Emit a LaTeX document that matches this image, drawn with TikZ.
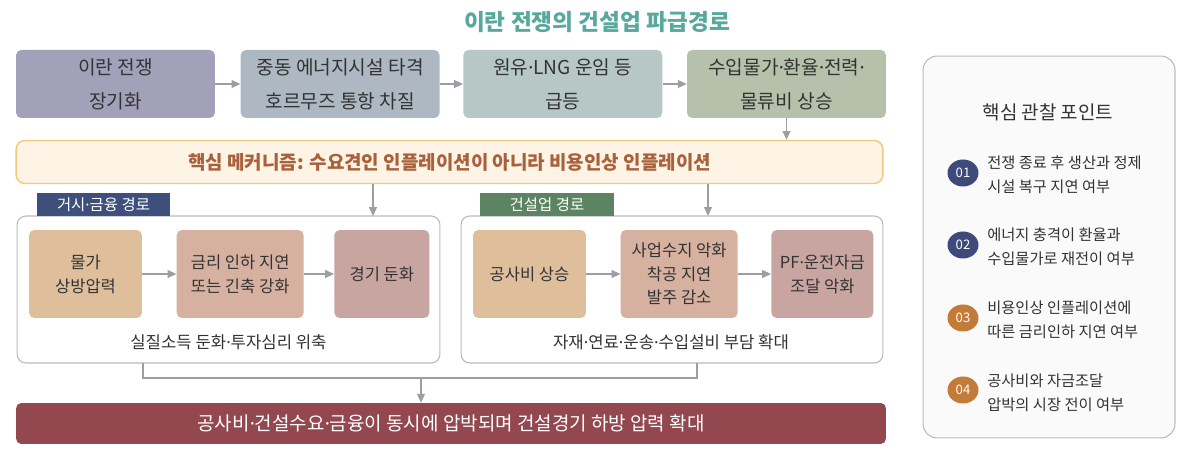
\documentclass[tikz,border=0pt]{standalone}
\usepackage{fontspec}
\setmainfont{Noto Sans CJK KR}
\newfontfamily\latinfont{Noto Sans}
\newcommand{\mdot}{{\latinfont ·}}
\usetikzlibrary{arrows.meta,positioning,shapes.geometric}
\definecolor{titleteal}{RGB}{88,168,158}
\definecolor{textdark}{RGB}{51,51,51}
\definecolor{warcol}{RGB}{163,161,186}
\definecolor{strikecol}{RGB}{173,184,195}
\definecolor{freightcol}{RGB}{182,199,197}
\definecolor{pricecol}{RGB}{182,193,171}
\definecolor{mechfill}{RGB}{253,244,230}
\definecolor{mechline}{RGB}{242,199,126}
\definecolor{mechtext}{RGB}{169,96,59}
\definecolor{navytag}{RGB}{62,79,124}
\definecolor{greentag}{RGB}{92,132,98}
\definecolor{stepone}{RGB}{223,190,156}
\definecolor{steptwo}{RGB}{214,177,160}
\definecolor{stepthree}{RGB}{201,165,161}
\definecolor{resultcol}{RGB}{147,72,80}
\definecolor{badgenavy}{RGB}{62,75,122}
\definecolor{badgeorange}{RGB}{194,123,57}
\definecolor{panelgray}{RGB}{184,187,190}
\definecolor{arrowgray}{RGB}{154,158,165}
\begin{document}
\begin{tikzpicture}[
    x=0.02cm, y=-0.02cm,
    box/.style={rectangle, rounded corners=3pt, align=center, text=textdark, inner sep=0pt},
    topbox/.style={box, minimum width=3.98cm, minimum height=1.36cm, font=\fontsize{10.9}{19.3}\selectfont},
    inbox/.style={box, minimum height=1.76cm, font=\fontsize{9.4}{13.5}\selectfont},
    tag/.style={rectangle, minimum width=2.68cm, minimum height=0.46cm, inner sep=0pt, text=white, font=\fontsize{8.8}{10}\selectfont},
    panel/.style={rectangle, draw=panelgray, line width=0.6pt, rounded corners=5pt, fill=white, minimum height=2.94cm},
    caption/.style={text=textdark, font=\fontsize{9.5}{11}\selectfont},
    flow/.style={draw=arrowgray, line width=0.6pt, -{Triangle[length=5pt, width=4.5pt]}},
    link/.style={draw=arrowgray, line width=0.6pt},
    badge/.style={ellipse, minimum width=0.62cm, minimum height=0.54cm, inner sep=0pt, text=white, font=\fontsize{7.5}{8}\selectfont},
    point/.style={anchor=west, align=left, inner sep=0pt, text=textdark, font=\fontsize{8.7}{13.6}\selectfont}
]
    \useasboundingbox (0,0) rectangle (1200,475);

    % Title
    \node[text=titleteal, font=\fontsize{12.9}{15}\selectfont\bfseries] (title) at (597,22) {이란 전쟁의 건설업 파급경로};

    % Top chain
    \node[topbox, fill=warcol] (war) at (115.5,84) {이란 전쟁\\장기화};
    \node[topbox, fill=strikecol, right=0.5cm of war] (strike) {중동 에너지시설 타격\\호르무즈 통항 차질};
    \node[topbox, fill=freightcol, right=0.46cm of strike] (freight) {원유\mdot LNG 운임 등\\급등};
    \node[topbox, fill=pricecol, right=0.48cm of freight] (prices) {수입물가\mdot 환율\mdot 전력\mdot\\물류비 상승};

    % Mechanism
    \node[box, fill=mechfill, draw=mechline, line width=0.8pt, rounded corners=5pt, minimum width=17.34cm, minimum height=0.86cm, text=mechtext, font=\fontsize{10.8}{12}\selectfont\bfseries] (mech) at (449.5,162) {핵심 메커니즘: 수요견인 인플레이션이 아니라 비용인상 인플레이션};

    % Macro / finance path
    \node[panel, minimum width=8.46cm] (macro) at (228.5,289.5) {};
    \node[tag, fill=navytag] (macrotag) at (103.5,204.5) {거시\mdot 금융 경로};
    \node[inbox, fill=stepone, minimum width=2.26cm] (inflation) at (85.5,274) {물가\\상방압력};
    \node[inbox, fill=steptwo, minimum width=2.54cm, right=0.68cm of inflation] (rates) {금리 인하 지연\\또는 긴축 강화};
    \node[inbox, fill=stepthree, minimum width=1.9cm, right=0.6cm of rates] (slowdown) {경기 둔화};
    \node[caption] (macrocap) at (228.5,342) {실질소득 둔화\mdot 투자심리 위축};

    % Construction path
    \node[panel, minimum width=8.44cm] (build) at (672,289.5) {};
    \node[tag, fill=greentag] (buildtag) at (547,204.5) {건설업 경로};
    \node[inbox, fill=stepone, minimum width=2.26cm] (cost) at (529.5,274) {공사비 상승};
    \node[inbox, fill=steptwo, minimum width=2.34cm, right=0.68cm of cost] (margin) {사업수지 악화\\착공 지연\\발주 감소};
    \node[inbox, fill=stepthree, minimum width=2.04cm, right=0.66cm of margin] (funding) {PF\mdot 운전자금\\조달 악화};
    \node[caption] (buildcap) at (671,342) {자재\mdot 연료\mdot 운송\mdot 수입설비 부담 확대};

    % Result
    \node[box, fill=resultcol, minimum width=17.4cm, minimum height=0.82cm, text=white, font=\fontsize{10.8}{12}\selectfont] (result) at (451,423.5) {공사비\mdot 건설수요\mdot 금융이 동시에 압박되며 건설경기 하방 압력 확대};

    % Edges
    \draw[flow] (war) -- (strike);
    \draw[flow] (strike) -- (freight);
    \draw[flow] (freight) -- (prices);
    \draw[flow] (prices.south) -- (prices.south |- mech.north);
    \coordinate (macroin) at (373,216);
    \coordinate (buildin) at (708,216);
    \draw[flow] (mech.south -| macroin) -- (macroin);
    \draw[flow] (mech.south -| buildin) -- (buildin);
    \draw[flow] (inflation) -- (rates);
    \draw[flow] (rates) -- (slowdown);
    \draw[flow] (cost) -- (margin);
    \draw[flow] (margin) -- (funding);
    \coordinate (macroout) at (143,363);
    \coordinate (buildout) at (697,363);
    \coordinate (merge) at (421,378);
    \draw[link] (macroout) |- (merge) -| (buildout);
    \draw[flow] (merge) -- (merge |- result.north);

    % Watch points
    \node[rectangle, draw=panelgray, line width=0.6pt, fill=white!98!black, rounded corners=8pt, minimum width=5.04cm, minimum height=7.64cm] (watch) at (1049,247) {};
    \node[text=textdark, font=\fontsize{10.8}{12}\selectfont] (watchtitle) at (1048,112) {핵심 관찰 포인트};
    \node[badge, fill=badgenavy] (b1) at (963,173) {01};
    \node[point] (p1) at (987,175) {전쟁 종료 후 생산과 정제\\시설 복구 지연 여부};
    \node[badge, fill=badgenavy] (b2) at (963,245) {02};
    \node[point] (p2) at (987,247) {에너지 충격이 환율과\\수입물가로 재전이 여부};
    \node[badge, fill=badgeorange] (b3) at (963,318) {03};
    \node[point] (p3) at (987,320) {비용인상 인플레이션에\\따른 금리인하 지연 여부};
    \node[badge, fill=badgeorange] (b4) at (963,390) {04};
    \node[point] (p4) at (987,393) {공사비와 자금조달\\압박의 시장 전이 여부};
\end{tikzpicture}
\end{document}
